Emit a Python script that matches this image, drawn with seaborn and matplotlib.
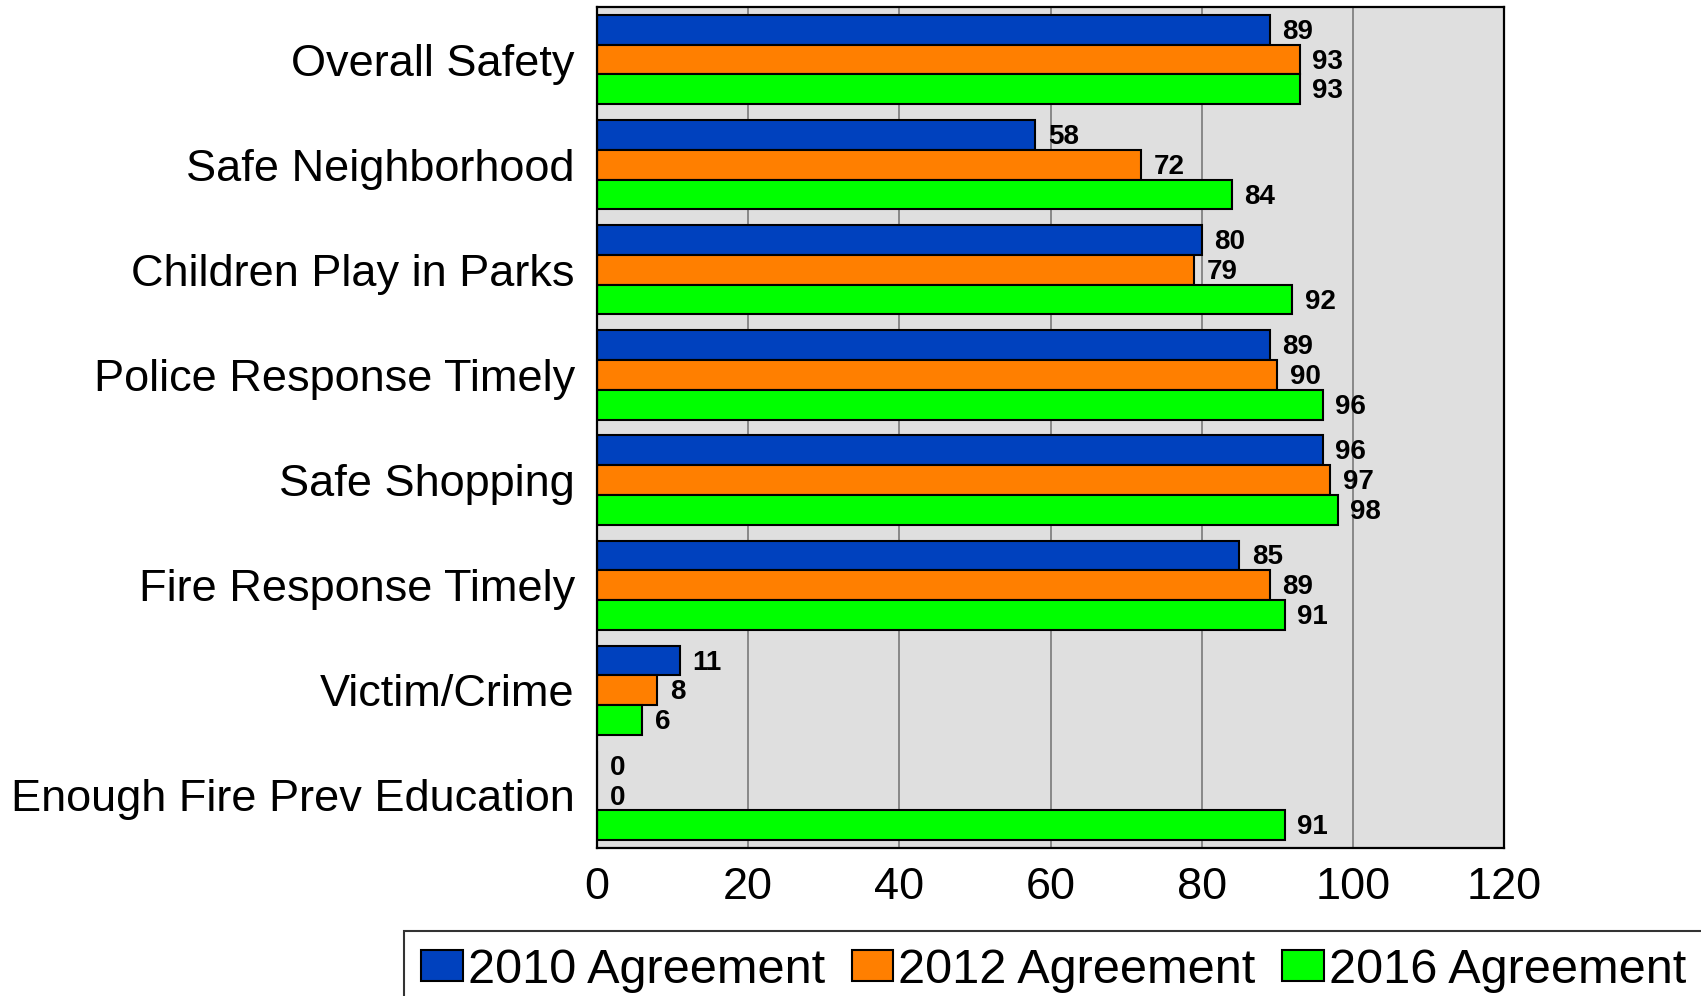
import matplotlib
matplotlib.use("Agg")
import matplotlib.pyplot as plt
import seaborn as sns
import pandas as pd

categories = [
    "Overall Safety",
    "Safe Neighborhood",
    "Children Play in Parks",
    "Police Response Timely",
    "Safe Shopping",
    "Fire Response Timely",
    "Victim/Crime",
    "Enough Fire Prev Education",
]
series_names = ["2010 Agreement", "2012 Agreement", "2016 Agreement"]
values_2010 = [89, 58, 80, 89, 96, 85, 11, 0]
values_2012 = [93, 72, 79, 90, 97, 89, 8, 0]
values_2016 = [93, 84, 92, 96, 98, 91, 6, 91]
x_ticks = [0, 20, 40, 60, 80, 100, 120]

colors = ["#0041BE", "#FF7F00", "#00FF00"]

rows = []
for name, vals in zip(series_names, [values_2010, values_2012, values_2016]):
    for cat, v in zip(categories, vals):
        rows.append({"Category": cat, "Series": name, "Value": v})
df = pd.DataFrame(rows)

sns.set_style("white")
plt.rcParams["font.family"] = ["Liberation Sans", "DejaVu Sans"]
plt.rcParams["text.color"] = "black"
plt.rcParams["xtick.color"] = "black"
plt.rcParams["ytick.color"] = "black"
plt.rcParams["axes.labelcolor"] = "black"

fig = plt.figure(figsize=(17.01, 9.96), dpi=100)
ax = fig.add_axes([597 / 1701, 1 - 848 / 996, (1504 - 597) / 1701, (848 - 7) / 996])

sns.barplot(
    data=df, x="Value", y="Category", hue="Series", orient="h",
    order=categories, hue_order=series_names, palette=colors,
    width=0.85, gap=0, edgecolor="black", linewidth=1.5,
    errorbar=None, ax=ax, legend=True, saturation=1,
)

ax.set_facecolor("#DFDFDF")
ax.set_xlim(0, 120)
ax.set_ylim(7.5, -0.5)
ax.set_xticks(x_ticks)
ax.xaxis.grid(True, color="#7A7A7A", linewidth=1.2)
ax.yaxis.grid(False)
ax.set_axisbelow(True)
ax.set_xlabel("")
ax.set_ylabel("")
for s in ax.spines.values():
    s.set_visible(True)
    s.set_color("black")
    s.set_linewidth(1.6)

ax.tick_params(axis="y", length=0, pad=16, labelsize=32.5, labelcolor="black")
ax.tick_params(axis="x", length=0, pad=14, labelsize=32.5, labelcolor="black")

# value labels just right of each bar end, nudged slightly down
for cont in ax.containers:
    texts = ax.bar_label(cont, padding=9, fontsize=20, fontweight="bold", color="black")
    for t in texts:
        t.xyann = (9, -1.5)

handles, labels = ax.get_legend_handles_labels()
ax.get_legend().remove()
leg = fig.legend(
    handles, labels, loc="upper left",
    bbox_to_anchor=(404 / 1701, 1 - 931 / 996),
    ncol=3, frameon=True, fancybox=False, borderaxespad=0,
    prop={"size": 35},
    handlelength=0.86, handleheight=0.6, handletextpad=0.1,
    columnspacing=0.55, borderpad=0.35,
)
leg.get_frame().set_edgecolor("black")
leg.get_frame().set_linewidth(1.5)
for t in leg.get_texts():
    t.set_color("black")

fig.savefig("out.png", dpi=100)
